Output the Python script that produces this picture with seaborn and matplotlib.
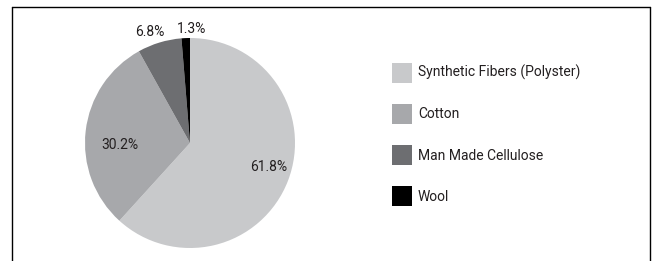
import seaborn as sns
import numpy as np
from matplotlib import pyplot as plt
from matplotlib.lines import Line2D

fibers = ['Synthetic Fibers (Polyster)', 'Cotton', 'Man Made Cellulose', 'Wool']
shares = [61.8, 30.2, 6.8, 1.3]
share_labels = ['61.8%', '30.2%', '6.8%', '1.3%']
colors = ['#c8c9cb', '#a7a8ab', '#6d6e71', '#000000']

# label placement: distance from centre (in radii) and angle nudge (deg)
label_dist = [0.78, 0.67, 1.12, 1.09]
label_nudge = [4, 8, 3, -3]

sns.set_style('white')
plt.rcParams['font.family'] = ['Roboto', 'DejaVu Sans']

W, H = 656, 261
fig = plt.figure(figsize=(W / 100, H / 100), dpi=100)

cx, cy, r = 190, 143, 105
ax = fig.add_axes([(cx - r) / W, (H - cy - r) / H, 2 * r / W, 2 * r / H])
wedges, _ = ax.pie(shares, colors=colors, startangle=90, counterclock=False,
                   radius=1, wedgeprops=dict(linewidth=0))
ax.set_xlim(-1, 1)
ax.set_ylim(-1, 1)
ax.set_aspect('equal')

total = sum(shares)
cum = np.cumsum([0] + shares[:-1])
for v, c0, lab, d, nud in zip(shares, cum, share_labels, label_dist, label_nudge):
    mid = np.deg2rad(90 - 360 * (c0 + v / 2) / total + nud)
    ax.text(d * np.cos(mid), d * np.sin(mid), lab, ha='center', va='center',
            fontsize=10, color='#231f20', clip_on=False)

fig.legend(wedges, fibers, loc='upper left',
           bbox_to_anchor=(392 / W, 1 - 62.5 / H), frameon=False,
           fontsize=10, handlelength=1.44, handleheight=1.84,
           handletextpad=0.43, labelspacing=1.53, borderpad=0,
           borderaxespad=0, labelcolor='#231f20')

# outer frame (open at the bottom)
frame_kw = dict(color='black', linewidth=1.0, transform=fig.transFigure)
fig.add_artist(Line2D([12 / W, 12 / W], [0, 1 - 7 / H], **frame_kw))
fig.add_artist(Line2D([12 / W, 650 / W], [1 - 7 / H, 1 - 7 / H], **frame_kw))
fig.add_artist(Line2D([650 / W, 650 / W], [0, 1 - 7 / H], **frame_kw))

fig.savefig('out.png', dpi=100)
plt.close(fig)
